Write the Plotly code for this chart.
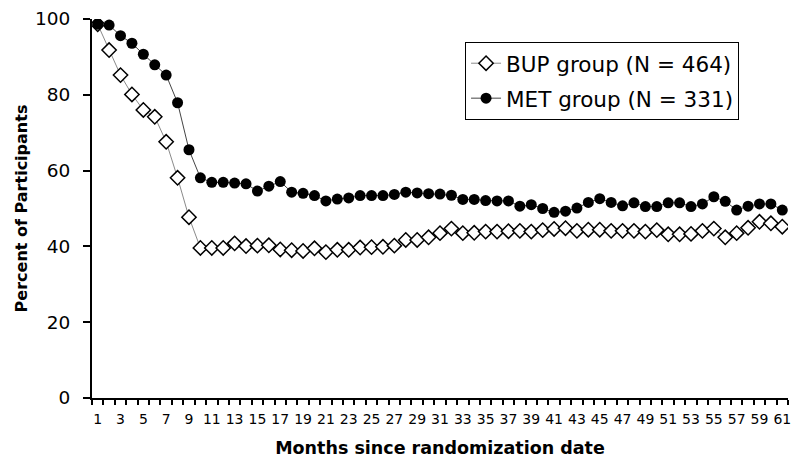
import plotly.graph_objects as go

months = list(range(1, 62))
bup = [98.6, 91.8, 85.2, 80.1, 76.0, 74.2, 67.6, 58.1, 47.7, 39.6,
       39.6, 39.6, 40.8, 40.1, 40.2, 40.3, 39.2, 39.0, 38.8, 39.5,
       38.5, 39.1, 39.1, 39.7, 39.8, 39.9, 40.2, 41.7, 41.7, 42.4,
       43.5, 44.7, 43.5, 43.6, 43.9, 43.9, 44.0, 44.1, 43.9, 44.3,
       44.6, 44.8, 44.1, 44.4, 44.4, 44.1, 44.1, 44.1, 43.9, 44.3,
       43.2, 43.2, 43.3, 44.1, 44.7, 42.4, 43.5, 44.9, 46.5, 46.1, 45.2]
met = [98.6, 98.4, 95.6, 93.6, 90.7, 87.9, 85.2, 77.9, 65.5, 58.1,
       56.9, 56.9, 56.7, 56.5, 54.6, 55.9, 57.1, 54.3, 54.0, 53.4,
       52.0, 52.5, 52.8, 53.4, 53.4, 53.4, 53.7, 54.3, 54.1, 53.9,
       53.8, 53.5, 52.4, 52.4, 52.1, 52.0, 52.0, 50.6, 51.0, 50.0,
       49.0, 49.3, 50.1, 51.6, 52.6, 51.6, 50.7, 51.5, 50.5, 50.5,
       51.5, 51.5, 50.5, 51.2, 53.1, 51.9, 49.6, 50.6, 51.2, 51.2, 49.6]
x_ticktext = [str(m) if m % 2 == 1 else "" for m in months]
y_ticks = [0, 20, 40, 60, 80, 100]

FONT = "DejaVu Sans"

fig = go.Figure()
fig.add_trace(go.Scatter(
    x=months, y=bup, mode="lines+markers", name="BUP group (N = 464)",
    legendgroup="bup",
    line=dict(color="#8a8a8a", width=1),
    marker=dict(symbol="diamond", size=11, color="white",
                line=dict(color="black", width=1.5)),
))
fig.add_trace(go.Scatter(
    x=months, y=met, mode="lines+markers", name="MET group (N = 331)",
    legendgroup="met",
    line=dict(color="#444444", width=1),
    marker=dict(symbol="circle", size=11, color="black",
                line=dict(color="black", width=0)),
))

fig.update_layout(
    width=800, height=465,
    margin=dict(l=92, r=12, t=19, b=67),
    paper_bgcolor="white", plot_bgcolor="white",
    font=dict(family=FONT, color="black"),
    showlegend=True,
    legend=dict(x=0.536, y=0.94, xanchor="left", yanchor="top",
                bgcolor="white", bordercolor="black", borderwidth=1,
                font=dict(size=21.5, family=FONT, color="black"),
                itemwidth=30, tracegroupgap=4, traceorder="grouped"),
)
fig.update_xaxes(
    automargin=False,
    range=[0.5, 61.5], tickmode="array", tickvals=months, ticktext=x_ticktext,
    ticks="", ticklabelstandoff=7, tickfont=dict(size=14, family=FONT),
    showline=True, linecolor="black", linewidth=2, showgrid=False, zeroline=False,
    minor=dict(tickmode="linear", tick0=0.5, dtick=1, ticks="outside",
               ticklen=5, tickwidth=1.5, tickcolor="black", showgrid=False),
    title=dict(text="<b>Months since randomization date</b>",
               font=dict(size=17.5, family=FONT), standoff=16),
)
fig.update_yaxes(
    automargin=False,
    range=[0, 100], tickmode="array", tickvals=y_ticks,
    ticks="outside", ticklen=7, tickwidth=1.5, tickcolor="black",
    ticklabelstandoff=9,
    tickfont=dict(size=18.5, family=FONT),
    showline=True, linecolor="black", linewidth=2, showgrid=False, zeroline=False,
    title=dict(text="<b>Percent of Participants</b>",
               font=dict(size=16, family=FONT), standoff=3),
)

fig.write_html("out.html", post_script="document.body.style.margin='0';",
               config={"displayModeBar": False})
